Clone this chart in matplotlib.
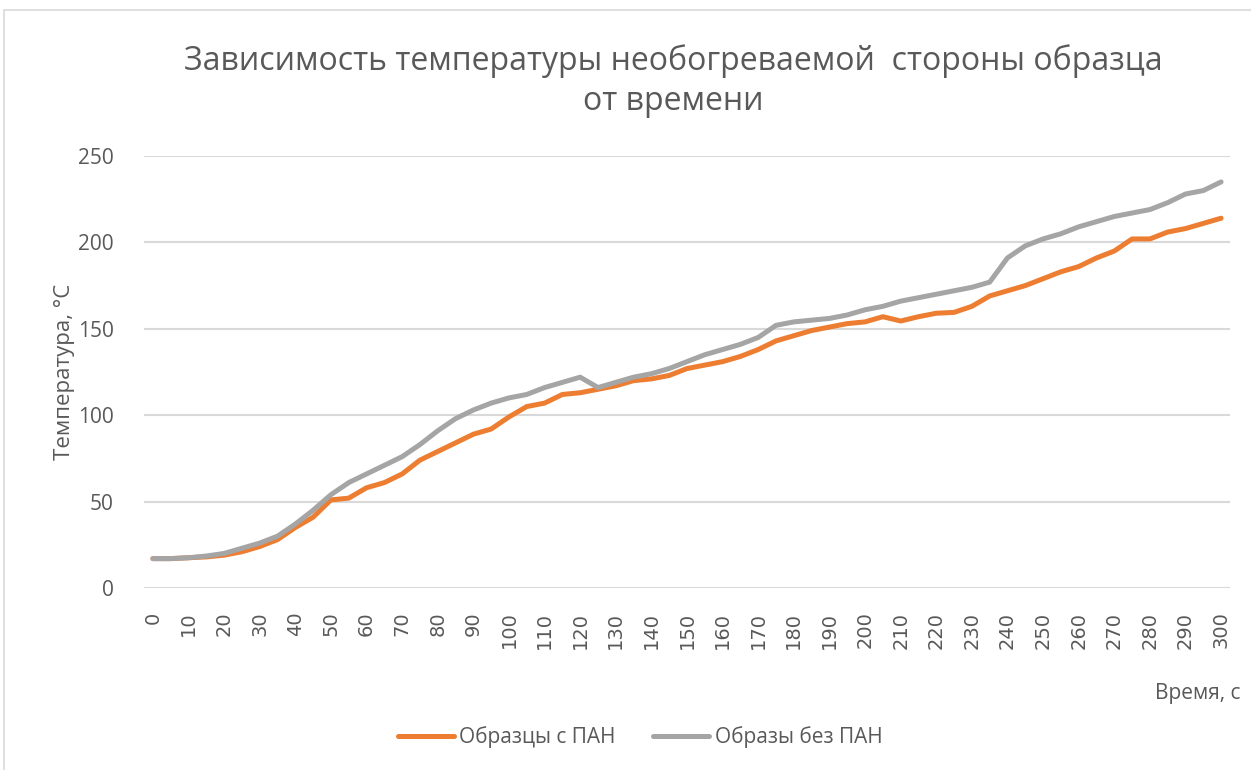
import numpy as np
import matplotlib.pyplot as plt
from matplotlib.patches import Rectangle

# time points, s (every 5 s)
time_s = list(range(0, 301, 5))

# temperature of the unheated side, °C
with_pan = [17, 17, 17.5, 18, 19, 21, 24, 28, 35, 41,
            51, 52, 58, 61, 66, 74, 79, 84, 89, 92,
            99, 105, 107, 112, 113, 115, 117, 120, 121, 123,
            127, 129, 131, 134, 138, 143, 146, 149, 151, 153,
            154, 157, 154.5, 157, 159, 159.5, 163, 169, 172, 175,
            179, 183, 186, 191, 195, 202, 202, 206, 208, 211,
            214]
without_pan = [17, 17, 17.5, 18.5, 20, 23, 26, 30, 37, 45,
               54, 61, 66, 71, 76, 83, 91, 98, 103, 107,
               110, 112, 116, 119, 122, 116, 119, 122, 124, 127,
               131, 135, 138, 141, 145, 152, 154, 155, 156, 158,
               161, 163, 166, 168, 170, 172, 174, 177, 191, 198,
               202, 205, 209, 212, 215, 217, 219, 223, 228, 230,
               235]

label_with = 'Образцы с ПАН'
label_without = 'Образы без ПАН'

txt = '#595959'
grid = '#D9D9D9'
plt.rcParams['font.family'] = ['Open Sans', 'DejaVu Sans']

fig = plt.figure(figsize=(12.51, 7.70), dpi=100)
# chart frame (only top and left edges fall inside the image)
fig.patches.append(Rectangle((4 / 1251, -0.1), 1.2, 1.1 - 10 / 770,
                             transform=fig.transFigure, fill=False,
                             edgecolor=grid, linewidth=1.2))

ax = fig.add_axes([144 / 1251, 1 - 588 / 770, (1230 - 144) / 1251, (588 - 156) / 770])

ax.plot(time_s, with_pan, color='#ED7D31', linewidth=3.6,
        solid_capstyle='round', solid_joinstyle='round', label=label_with)
ax.plot(time_s, without_pan, color='#A5A5A5', linewidth=3.6,
        solid_capstyle='round', solid_joinstyle='round', label=label_without)

ax.set_xlim(-2.5, 302.5)
ax.set_ylim(0, 250)
ax.set_yticks(range(0, 251, 50))
ax.set_xticks(range(0, 301, 10))
ax.set_xticklabels([str(t) for t in range(0, 301, 10)], rotation=90,
                   family='DejaVu Sans', fontsize=14)
ax.tick_params(axis='x', length=0, pad=17, colors=txt)
ax.tick_params(axis='y', length=0, pad=22, colors=txt, labelsize=15)
ax.grid(axis='y', color=grid, linewidth=1.5)
ax.set_axisbelow(True)
for s in ax.spines.values():
    s.set_visible(False)

ax.set_ylabel('Температура, °С', fontsize=16, color=txt, labelpad=2)

fig.text(673 / 1251, 1 - 61 / 770, 'Зависимость температуры необогреваемой  стороны образца',
         ha='center', va='center', fontsize=23, color=txt)
fig.text(673 / 1251, 1 - 102 / 770, 'от времени',
         ha='center', va='center', fontsize=23, color=txt)
fig.text(1155 / 1251, 1 - 693 / 770, 'Время, с', ha='left', va='center',
         fontsize=15, color=txt)

fig.legend(loc='center', bbox_to_anchor=(640 / 1251, 1 - 737 / 770), ncol=2,
           frameon=False, fontsize=15, labelcolor=txt, handlelength=2.7,
           handletextpad=0.25, columnspacing=1.8)

fig.savefig('out.png', dpi=100)
